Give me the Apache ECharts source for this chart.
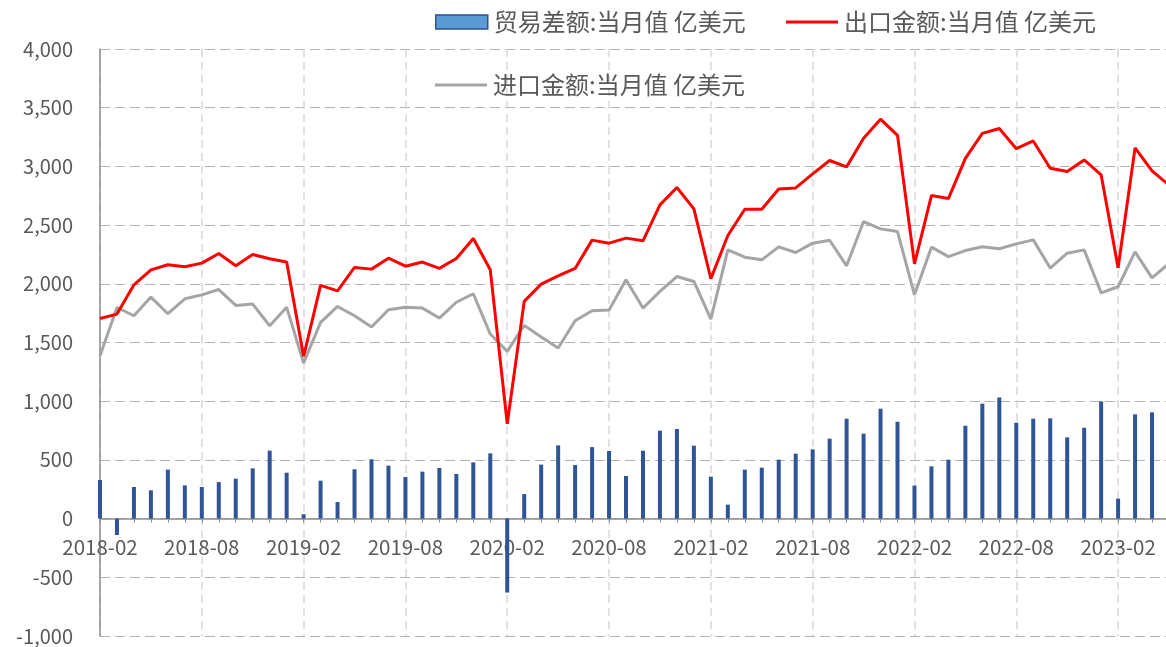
<!DOCTYPE html>
<html>
<head>
<meta charset="utf-8">
<script src="https://cdn.jsdelivr.net/npm/echarts@6/dist/echarts.min.js"></script>
<style>html,body{margin:0;padding:0;background:#fff}#c{width:1166px;height:647px}</style>
</head>
<body>
<div id="c"></div>
<script>
const categories = [
  '2018-02','2018-03','2018-04','2018-05','2018-06','2018-07','2018-08','2018-09','2018-10','2018-11','2018-12',
  '2019-01','2019-02','2019-03','2019-04','2019-05','2019-06','2019-07','2019-08','2019-09','2019-10','2019-11','2019-12',
  '2020-01','2020-02','2020-03','2020-04','2020-05','2020-06','2020-07','2020-08','2020-09','2020-10','2020-11','2020-12',
  '2021-01','2021-02','2021-03','2021-04','2021-05','2021-06','2021-07','2021-08','2021-09','2021-10','2021-11','2021-12',
  '2022-01','2022-02','2022-03','2022-04','2022-05','2022-06','2022-07','2022-08','2022-09','2022-10','2022-11','2022-12',
  '2023-01','2023-02','2023-03','2023-04','2023-05'
];
const balance = [
  329, -140, 269, 241, 417, 283, 269, 311, 340, 428, 579,
  391, 37, 323, 141, 420, 505, 451, 354, 400, 431, 380, 479,
  556, -630, 209, 460, 624, 456, 609, 576, 363, 578, 749, 763,
  621, 357, 119, 417, 434, 502, 553, 590, 681, 851, 723, 936,
  825, 281, 445, 502, 791, 979, 1032, 817, 851, 854, 692, 774,
  999, 170, 888, 905, 658
];
const exportsVal = [
  1705, 1742, 1991, 2119, 2162, 2145, 2176, 2258, 2153, 2250, 2213,
  2185, 1382, 1986, 1940, 2139, 2125, 2218, 2150, 2185, 2131, 2215, 2386,
  2119, 808, 1850, 1997, 2068, 2131, 2372, 2346, 2389, 2366, 2672, 2820,
  2638, 2043, 2411, 2635, 2635, 2808, 2817, 2936, 3050, 2996, 3240, 3402,
  3265, 2170, 2752, 2726, 3069, 3281, 3323, 3151, 3217, 2984, 2956, 3055,
  2928, 2136, 3157, 2962, 2840
];
const importsVal = [
  1387, 1798, 1728, 1887, 1745, 1872, 1906, 1951, 1816, 1827, 1643,
  1801, 1325, 1671, 1807, 1728, 1632, 1779, 1801, 1793, 1708, 1843, 1915,
  1572, 1424, 1646, 1546, 1453, 1685, 1770, 1776, 2034, 1793, 1935, 2062,
  2020, 1699, 2289, 2227, 2204, 2315, 2267, 2346, 2371, 2153, 2530, 2468,
  2445, 1906, 2312, 2232, 2283, 2315, 2298, 2340, 2374, 2134, 2261, 2289,
  1923, 1975, 2272, 2051, 2174
];
const seriesNames = ['贸易差额:当月值 亿美元', '出口金额:当月值 亿美元', '进口金额:当月值 亿美元'];

const font = '"Noto Sans CJK SC", "Noto Sans", sans-serif';
const legendText = { fontSize: 24, color: '#595959', fontFamily: font, padding: [0, 0, 0, 1] };
const chart = echarts.init(document.getElementById('c'));
chart.setOption({
  animation: false,
  backgroundColor: '#fff',
  textStyle: { fontFamily: font },
  legend: [
    {
      left: 435, top: 10, padding: 0, itemWidth: 52, itemHeight: 14,
      textStyle: legendText,
      data: [
        { name: seriesNames[0], icon: 'rect', itemStyle: { color: '#5B9BD5', borderColor: '#2F528F', borderWidth: 1.5 } }
      ]
    },
    {
      left: 786, top: 10, padding: 0, itemWidth: 52, itemHeight: 3,
      textStyle: legendText,
      data: [ { name: seriesNames[1], icon: 'rect' } ]
    },
    {
      left: 435, top: 73, padding: 0, itemWidth: 52, itemHeight: 3,
      textStyle: legendText,
      data: [ { name: seriesNames[2], icon: 'rect' } ]
    }
  ],
  grid: { left: 100, right: -3, top: 49, bottom: 11, containLabel: false, outerBoundsMode: 'none' },
  xAxis: {
    type: 'category',
    data: categories,
    boundaryGap: false,
    position: 'bottom',
    offset: -117.4,
    axisLine: { onZero: false, lineStyle: { color: '#8C8C8C', width: 1.5 } },
    axisTick: { show: true, interval: 0, length: 4, lineStyle: { color: '#8C8C8C' } },
    axisLabel: { interval: 5, fontSize: 20.5, color: '#595959', margin: 18, fontFamily: font },
    splitLine: { show: true, interval: 5, lineStyle: { color: '#D9D9D9', type: [8, 5], width: 1.5 } }
  },
  yAxis: {
    type: 'value',
    min: -1000, max: 4000, interval: 500,
    axisLine: { show: true, lineStyle: { color: '#8C8C8C', width: 1.5 } },
    axisTick: { show: false },
    axisLabel: {
      fontSize: 20, color: '#595959', margin: 27, fontFamily: font,
      formatter: v => v.toLocaleString('en-US')
    },
    splitLine: { show: true, lineStyle: { color: '#B4B4B4', type: [10, 5], width: 1.2 } }
  },
  series: [
    {
      name: seriesNames[0], type: 'bar', data: balance, barWidth: 4,
      itemStyle: { color: '#2F5597' }, z: 2
    },
    {
      name: seriesNames[1], type: 'line', data: exportsVal, symbol: 'none',
      lineStyle: { color: '#FF0000', width: 3 }, itemStyle: { color: '#FF0000' }, z: 4
    },
    {
      name: seriesNames[2], type: 'line', data: importsVal, symbol: 'none',
      lineStyle: { color: '#A5A5A5', width: 3 }, itemStyle: { color: '#A5A5A5' }, z: 3
    }
  ]
});
</script>
</body>
</html>
